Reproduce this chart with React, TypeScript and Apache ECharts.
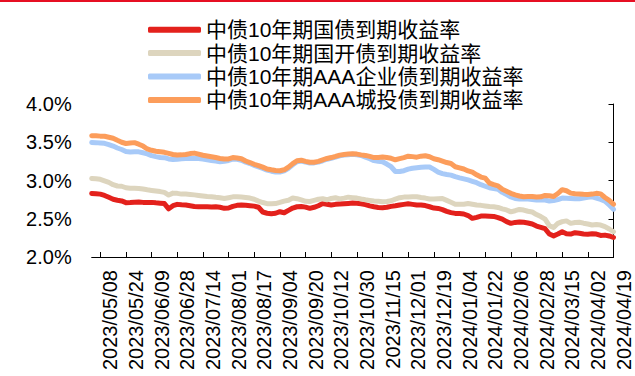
import React, { useEffect, useRef } from 'react';
import * as echarts from 'echarts';

const seriesNames = [
  '中债10年期国债到期收益率',
  '中债10年期国开债到期收益率',
  '中债10年期AAA企业债到期收益率',
  '中债10年期AAA城投债到期收益率',
];

const seriesColors = ['#E3211C', '#DDD5BE', '#A8CAF8', '#FC9D5B'];

// one tick label every 6th point (every 12 trading days), starting at index 2
const dateLabels = [
  '2023/05/08', '2023/05/24', '2023/06/09', '2023/06/28', '2023/07/14',
  '2023/08/01', '2023/08/17', '2023/09/04', '2023/09/20', '2023/10/12',
  '2023/10/30', '2023/11/15', '2023/12/01', '2023/12/19', '2024/01/04',
  '2024/01/22', '2024/02/06', '2024/02/28', '2024/03/15', '2024/04/02',
  '2024/04/19',
];

const govYield = [
  2.831, 2.828, 2.822, 2.805, 2.780, 2.755, 2.742, 2.733, 2.710, 2.712,
  2.716, 2.718, 2.714, 2.712, 2.714, 2.708, 2.704, 2.698, 2.630, 2.670,
  2.688, 2.682, 2.679, 2.670, 2.660, 2.657, 2.658, 2.656, 2.655, 2.657,
  2.650, 2.636, 2.640, 2.662, 2.675, 2.679, 2.676, 2.670, 2.665, 2.650,
  2.588, 2.572, 2.565, 2.572, 2.592, 2.578, 2.610, 2.640, 2.657, 2.660,
  2.652, 2.636, 2.650, 2.670, 2.698, 2.690, 2.680, 2.688, 2.692, 2.696,
  2.700, 2.705, 2.703, 2.696, 2.685, 2.668, 2.656, 2.648, 2.644, 2.650,
  2.662, 2.670, 2.680, 2.688, 2.695, 2.688, 2.680, 2.679, 2.672, 2.657,
  2.640, 2.635, 2.620, 2.597, 2.580, 2.570, 2.568, 2.562, 2.542, 2.505,
  2.518, 2.535, 2.535, 2.532, 2.530, 2.515, 2.495, 2.462, 2.440, 2.452,
  2.458, 2.453, 2.445, 2.432, 2.405, 2.388, 2.370, 2.300, 2.276, 2.300,
  2.330, 2.305, 2.300, 2.318, 2.310, 2.300, 2.297, 2.303, 2.300, 2.282,
  2.286, 2.275, 2.255,
];

const cdbYield = [
  3.027, 3.022, 3.015, 2.995, 2.975, 2.945, 2.928, 2.925, 2.905, 2.898,
  2.898, 2.896, 2.888, 2.878, 2.870, 2.862, 2.855, 2.845, 2.810, 2.835,
  2.832, 2.822, 2.822, 2.818, 2.812, 2.805, 2.798, 2.792, 2.788, 2.780,
  2.775, 2.765, 2.775, 2.786, 2.788, 2.784, 2.778, 2.770, 2.755, 2.730,
  2.712, 2.697, 2.696, 2.698, 2.713, 2.730, 2.742, 2.770, 2.762, 2.746,
  2.728, 2.726, 2.740, 2.755, 2.762, 2.748, 2.766, 2.774, 2.760, 2.770,
  2.782, 2.776, 2.770, 2.758, 2.748, 2.740, 2.733, 2.728, 2.722, 2.726,
  2.735, 2.757, 2.775, 2.783, 2.783, 2.786, 2.788, 2.778, 2.770, 2.758,
  2.757, 2.762, 2.765, 2.740, 2.715, 2.690, 2.688, 2.690, 2.700, 2.690,
  2.680, 2.675, 2.668, 2.661, 2.656, 2.648, 2.630, 2.615, 2.590, 2.605,
  2.622, 2.614, 2.598, 2.588, 2.555, 2.528, 2.495, 2.410, 2.385, 2.440,
  2.462, 2.472, 2.440, 2.450, 2.455, 2.442, 2.432, 2.418, 2.425, 2.418,
  2.398, 2.366, 2.330,
];

const aaaCorpYield = [
  3.497, 3.495, 3.490, 3.486, 3.470, 3.450, 3.425, 3.405, 3.378, 3.372,
  3.375, 3.375, 3.362, 3.348, 3.325, 3.312, 3.301, 3.298, 3.282, 3.275,
  3.278, 3.285, 3.288, 3.290, 3.288, 3.288, 3.280, 3.270, 3.262, 3.255,
  3.245, 3.250, 3.262, 3.280, 3.278, 3.265, 3.240, 3.222, 3.198, 3.178,
  3.158, 3.135, 3.122, 3.112, 3.110, 3.125, 3.160, 3.205, 3.245, 3.255,
  3.240, 3.228, 3.230, 3.240, 3.258, 3.278, 3.290, 3.305, 3.322, 3.332,
  3.338, 3.342, 3.335, 3.328, 3.305, 3.285, 3.260, 3.250, 3.244, 3.215,
  3.180, 3.118, 3.117, 3.128, 3.148, 3.160, 3.167, 3.174, 3.178, 3.176,
  3.145, 3.110, 3.090, 3.078, 3.070, 3.050, 3.035, 3.022, 3.008, 2.990,
  2.972, 2.945, 2.925, 2.905, 2.894, 2.885, 2.845, 2.815, 2.785, 2.765,
  2.757, 2.757, 2.757, 2.752, 2.745, 2.744, 2.744, 2.733, 2.738, 2.750,
  2.770, 2.768, 2.765, 2.760, 2.762, 2.772, 2.780, 2.786, 2.770, 2.752,
  2.730, 2.680, 2.625,
];

const aaaLgfvYield = [
  3.584, 3.585, 3.580, 3.578, 3.565, 3.552, 3.525, 3.500, 3.484, 3.490,
  3.495, 3.475, 3.450, 3.412, 3.395, 3.382, 3.375, 3.368, 3.355, 3.340,
  3.333, 3.335, 3.340, 3.352, 3.358, 3.345, 3.330, 3.320, 3.310, 3.300,
  3.288, 3.280, 3.282, 3.300, 3.295, 3.285, 3.255, 3.235, 3.212, 3.195,
  3.175, 3.150, 3.140, 3.132, 3.128, 3.140, 3.175, 3.220, 3.258, 3.266,
  3.250, 3.238, 3.238, 3.250, 3.270, 3.288, 3.300, 3.315, 3.332, 3.340,
  3.345, 3.349, 3.345, 3.335, 3.328, 3.315, 3.300, 3.302, 3.306, 3.300,
  3.290, 3.271, 3.285, 3.300, 3.318, 3.312, 3.305, 3.318, 3.323, 3.310,
  3.285, 3.272, 3.253, 3.235, 3.222, 3.180, 3.165, 3.150, 3.125, 3.110,
  3.075, 3.045, 3.030, 2.965, 2.945, 2.930, 2.885, 2.860, 2.832, 2.812,
  2.798, 2.788, 2.790, 2.792, 2.785, 2.787, 2.805, 2.800, 2.790, 2.830,
  2.880, 2.866, 2.835, 2.826, 2.822, 2.819, 2.818, 2.822, 2.832, 2.825,
  2.778, 2.740, 2.690,
];

const yMin = 2.0;
const yMax = 4.0;
const yStep = 0.5;

const LABEL_START = 2;
const LABEL_STEP = 6;
const FONT = '"Liberation Sans", Arial, "Noto Sans CJK SC", sans-serif';

const isLabelIdx = (i: number) => i >= LABEL_START && (i - LABEL_START) % LABEL_STEP === 0;

export default function App() {
  const ref = useRef<HTMLDivElement>(null);

  useEffect(() => {
    if (!ref.current) return;
    const chart = echarts.init(ref.current, null, { renderer: 'svg' });
    const allData = [govYield, cdbYield, aaaCorpYield, aaaLgfvYield];
    const n = govYield.length;
    const categories = Array.from({ length: n }, (_, i) =>
      isLabelIdx(i) ? dateLabels[(i - LABEL_START) / LABEL_STEP] : `#${i}`
    );

    chart.setOption({
      animation: false,
      backgroundColor: '#fff',
      textStyle: { fontFamily: FONT },
      graphic: [
        {
          type: 'rect',
          shape: { x: 0, y: 0, width: 635, height: 2 },
          style: { fill: '#E60F23' },
          silent: true,
        },
      ],
      legend: {
        orient: 'vertical',
        left: 143,
        top: 13,
        itemWidth: 53,
        itemHeight: 6,
        itemGap: 0,
        icon: 'roundRect',
        data: seriesNames,
        textStyle: { fontSize: 21, color: '#000', fontFamily: FONT, lineHeight: 23.4 },
      },
      grid: { left: 91.7, right: 21.5, top: 104, bottom: 119 },
      xAxis: {
        type: 'category',
        data: categories,
        boundaryGap: false,
        axisLine: { show: true, lineStyle: { color: '#000', width: 1 } },
        axisTick: {
          show: true,
          inside: true,
          length: 5,
          interval: (i: number) => isLabelIdx(i),
          lineStyle: { color: '#000' },
        },
        axisLabel: {
          interval: (i: number) => isLabelIdx(i),
          rotate: 90,
          fontSize: 20,
          color: '#000',
          margin: 13,
          verticalAlign: 'top',
          fontFamily: FONT,
        },
        splitLine: { show: false },
      },
      yAxis: [
        {
          type: 'value',
          min: yMin,
          max: yMax,
          interval: yStep,
          position: 'left',
          axisLine: { show: false },
          axisTick: { show: false },
          splitLine: { show: false },
          axisLabel: {
            formatter: (v: number) => v.toFixed(1) + '%',
            fontSize: 20,
            color: '#000',
            margin: 20,
            fontFamily: FONT,
          },
        },
        {
          type: 'value',
          min: yMin,
          max: yMax,
          interval: yStep,
          position: 'right',
          axisLine: { show: true, lineStyle: { color: '#000', width: 1 } },
          axisTick: { show: true, inside: true, length: 5, lineStyle: { color: '#000' } },
          axisLabel: { show: false },
          splitLine: { show: false },
        },
      ],
      series: seriesNames.map((name, k) => ({
        name,
        type: 'line',
        data: allData[k],
        yAxisIndex: 0,
        showSymbol: false,
        symbol: 'none',
        color: seriesColors[k],
        lineStyle: { width: 5, color: seriesColors[k], cap: 'round', join: 'round' },
        z: 2 + k,
      })),
    });

    return () => chart.dispose();
  }, []);

  return (
    <div
      ref={ref}
      style={{ position: 'fixed', left: 0, top: 0, width: 635, height: 376, background: '#fff' }}
    />
  );
}
